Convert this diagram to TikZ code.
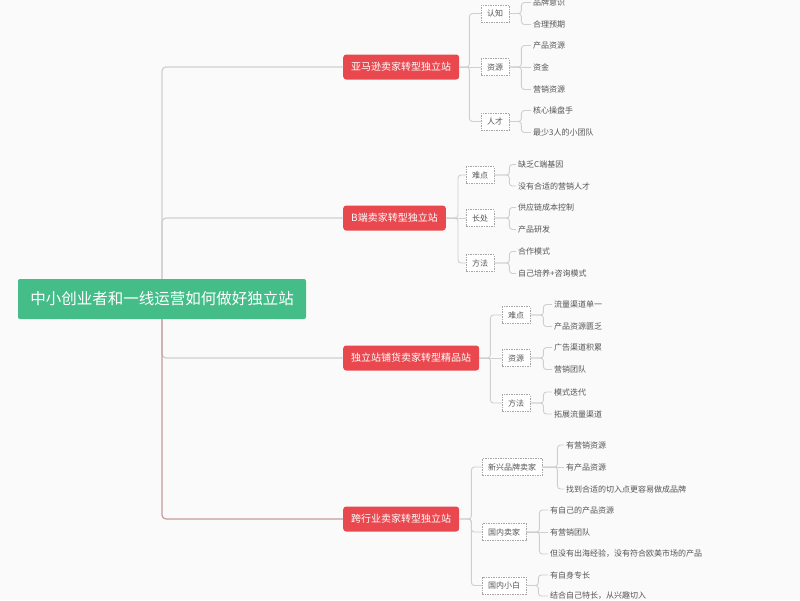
\documentclass[tikz,border=0pt]{standalone}
\usepackage{fontspec}
\setmainfont{Noto Sans CJK SC}
\definecolor{rootgreen}{HTML}{45BD89}
\definecolor{topicred}{HTML}{E9484F}
\definecolor{linegray}{HTML}{CFCFCF}
\definecolor{linered}{HTML}{C49C9C}
\definecolor{textgray}{HTML}{555555}
\definecolor{paper}{HTML}{FAFAFA}
\tikzset{
    rootbox/.style={fill=rootgreen, text=white, rounded corners=2pt, minimum width=288pt,
        minimum height=40pt, inner sep=0pt, font=\fontsize{15.5}{18}\selectfont},
    topicbox/.style={anchor=west, fill=topicred, text=white, rounded corners=3pt,
        minimum height=25pt, inner xsep=8pt, font=\fontsize{10}{12}\selectfont},
    subbox/.style={anchor=west, draw=gray!70, dash pattern=on 1.5pt off 1pt, fill=white,
        text=textgray, minimum height=17pt, inner xsep=6pt, font=\fontsize{8}{10}\selectfont},
    leaf/.style={anchor=west, text=textgray, inner sep=2pt, font=\fontsize{8}{10}\selectfont},
    link/.style={draw=linegray, line width=1.2pt, rounded corners=4pt},
    sublink/.style={draw=linegray, line width=0.9pt, rounded corners=3pt},
}
\begin{document}
\begin{tikzpicture}[x=1pt, y=-1pt]
    \fill[paper] (0,0) rectangle (800,600);
    \useasboundingbox (0,0) rectangle (800,600);

    % root and main topics
    \node[rootbox] (root) at (162,299) {中小创业者和一线运营如何做好独立站};
    \node[topicbox] (amz) at (343, 67) {亚马逊卖家转型独立站};
    \node[topicbox] (btob) at (343,218) {B端卖家转型独立站};
    \node[topicbox] (dist) at (343,358) {独立站铺货卖家转型精品站};
    \node[topicbox] (cross) at (343,519) {跨行业卖家转型独立站};

    \draw[link] (root.north) |- (amz.west);
    \draw[link] (root.north) |- (btob.west);
    \draw[link] (root.south) |- (dist.west);
    \draw[link, draw=linered] (root.south) |- (cross.west);

    % 亚马逊卖家
    \node[subbox] (amzA) at (481, 13.5) {认知};
    \node[subbox] (amzB) at (481, 67) {资源};
    \node[subbox] (amzC) at (481,121.5) {人才};
    \draw[sublink] (amz.east) -- ++(10,0) |- (amzA.west);
    \draw[sublink] (amz.east) -- (amzB.west);
    \draw[sublink] (amz.east) -- ++(10,0) |- (amzC.west);

    \node[leaf] (amzA1) at (531,  2.5) {品牌意识};
    \node[leaf] (amzA2) at (531, 24.5) {合理预期};
    \node[leaf] (amzB1) at (531, 45.5) {产品资源};
    \node[leaf] (amzB2) at (531, 67.5) {资金};
    \node[leaf] (amzB3) at (531, 89.5) {营销资源};
    \node[leaf] (amzC1) at (531,110.5) {核心操盘手};
    \node[leaf] (amzC2) at (531,132.5) {最少3人的小团队};
    \draw[sublink] (amzA.east) -- ++(12,0) |- (amzA1.west);
    \draw[sublink] (amzA.east) -- ++(12,0) |- (amzA2.west);
    \draw[sublink] (amzB.east) -- ++(12,0) |- (amzB1.west);
    \draw[sublink] (amzB.east) -- (amzB2.west);
    \draw[sublink] (amzB.east) -- ++(12,0) |- (amzB3.west);
    \draw[sublink] (amzC.east) -- ++(12,0) |- (amzC1.west);
    \draw[sublink] (amzC.east) -- ++(12,0) |- (amzC2.west);

    % B端卖家
    \node[subbox] (btobA) at (466,175) {难点};
    \node[subbox] (btobB) at (466,218) {长处};
    \node[subbox] (btobC) at (466,263) {方法};
    \draw[sublink] (btob.east) -- ++(12,0) |- (btobA.west);
    \draw[sublink] (btob.east) -- (btobB.west);
    \draw[sublink] (btob.east) -- ++(12,0) |- (btobC.west);

    \node[leaf] (btobA1) at (516,164.5) {缺乏C端基因};
    \node[leaf] (btobA2) at (516,186) {没有合适的营销人才};
    \node[leaf] (btobB1) at (516,207.5) {供应链成本控制};
    \node[leaf] (btobB2) at (516,229.5) {产品研发};
    \node[leaf] (btobC1) at (516,251.5) {合作模式};
    \node[leaf] (btobC2) at (516,273.5) {自己培养+咨询模式};
    \draw[sublink] (btobA.east) -- ++(15,0) |- (btobA1.west);
    \draw[sublink] (btobA.east) -- ++(15,0) |- (btobA2.west);
    \draw[sublink] (btobB.east) -- ++(15,0) |- (btobB1.west);
    \draw[sublink] (btobB.east) -- ++(15,0) |- (btobB2.west);
    \draw[sublink] (btobC.east) -- ++(15,0) |- (btobC1.west);
    \draw[sublink] (btobC.east) -- ++(15,0) |- (btobC2.west);

    % 铺货卖家
    \node[subbox] (distA) at (502,315) {难点};
    \node[subbox] (distB) at (502,358) {资源};
    \node[subbox] (distC) at (502,403) {方法};
    \draw[sublink] (dist.east) -- ++(11,0) |- (distA.west);
    \draw[sublink] (dist.east) -- (distB.west);
    \draw[sublink] (dist.east) -- ++(11,0) |- (distC.west);

    \node[leaf] (distA1) at (552,304.5) {流量渠道单一};
    \node[leaf] (distA2) at (552,326.5) {产品资源匮乏};
    \node[leaf] (distB1) at (552,347.5) {广告渠道积累};
    \node[leaf] (distB2) at (552,369.5) {营销团队};
    \node[leaf] (distC1) at (552,392) {模式迭代};
    \node[leaf] (distC2) at (552,414) {拓展流量渠道};
    \draw[sublink] (distA.east) -- ++(13,0) |- (distA1.west);
    \draw[sublink] (distA.east) -- ++(13,0) |- (distA2.west);
    \draw[sublink] (distB.east) -- ++(13,0) |- (distB1.west);
    \draw[sublink] (distB.east) -- ++(13,0) |- (distB2.west);
    \draw[sublink] (distC.east) -- ++(13,0) |- (distC1.west);
    \draw[sublink] (distC.east) -- ++(13,0) |- (distC2.west);

    % 跨行业卖家
    \node[subbox] (crossA) at (482,467) {新兴品牌卖家};
    \node[subbox] (crossB) at (482,532) {国内卖家};
    \node[subbox] (crossC) at (482,585.5) {国内小白};
    \draw[sublink] (cross.east) -- ++(12,0) |- (crossA.west);
    \draw[sublink] (cross.east) -- ++(12,0) |- (crossB.west);
    \draw[sublink] (cross.east) -- ++(12,0) |- (crossC.west);

    \node[leaf] (crossA1) at (564,445) {有营销资源};
    \node[leaf] (crossA2) at (564,467) {有产品资源};
    \node[leaf] (crossA3) at (564,489) {找到合适的切入点更容易做成品牌};
    \node[leaf] (crossB1) at (548,510) {有自己的产品资源};
    \node[leaf] (crossB2) at (548,532) {有营销团队};
    \node[leaf] (crossB3) at (548,554) {但没有出海经验，没有符合欧美市场的产品};
    \node[leaf] (crossC1) at (548,575) {有自身专长};
    \node[leaf] (crossC2) at (548,596) {结合自己特长，从兴趣切入};
    \draw[sublink] (crossA.east) -- ++(15,0) |- (crossA1.west);
    \draw[sublink] (crossA.east) -- (crossA2.west);
    \draw[sublink] (crossA.east) -- ++(15,0) |- (crossA3.west);
    \draw[sublink] (crossB.east) -- ++(13,0) |- (crossB1.west);
    \draw[sublink] (crossB.east) -- (crossB2.west);
    \draw[sublink] (crossB.east) -- ++(13,0) |- (crossB3.west);
    \draw[sublink] (crossC.east) -- ++(12,0) |- (crossC1.west);
    \draw[sublink] (crossC.east) -- ++(12,0) |- (crossC2.west);
\end{tikzpicture}
\end{document}
